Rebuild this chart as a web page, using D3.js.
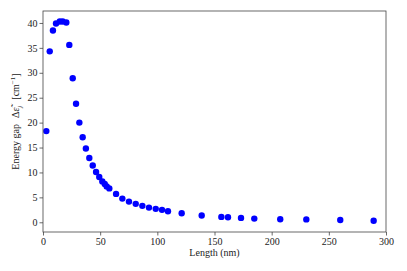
<!DOCTYPE html>
<html><head><meta charset="utf-8">
<script src="https://cdn.jsdelivr.net/npm/d3@7"></script>
<style>body{margin:0;background:#fff}svg{display:block}text{font-family:"Liberation Serif","DejaVu Serif",serif}</style>
</head><body><svg id="c" width="407" height="271"></svg>
<script>
const lengths = [2.9, 5.9, 8.7, 11.4, 14.7, 17.2, 20.4, 23.0, 26.0, 28.9, 31.8, 34.7, 37.5, 40.5, 43.5, 46.4, 49.2, 51.9, 54.0, 55.7, 58.0, 63.9, 69.4, 75.2, 81.1, 86.9, 92.7, 98.6, 104.1, 109.3, 121.3, 138.8, 156.0, 161.8, 173.2, 184.8, 207.5, 230.3, 260.0, 289.2];
const gaps = [18.3, 34.3, 38.5, 39.9, 40.3, 40.3, 40.1, 35.6, 28.9, 23.8, 20.0, 17.05, 14.8, 12.9, 11.4, 10.1, 9.1, 8.2, 7.7, 7.2, 6.8, 5.7, 4.75, 4.15, 3.7, 3.3, 2.95, 2.7, 2.5, 2.2, 1.8, 1.35, 1.08, 1.0, 0.88, 0.74, 0.62, 0.58, 0.45, 0.3];
const xTicks = [0, 50, 100, 150, 200, 250, 300];
const yTicks = [0, 5, 10, 15, 20, 25, 30, 35, 40];

const svg = d3.select("#c");
const L = 43, R = 386, T = 11, B = 232;
const x = d3.scaleLinear().domain([0, 300]).range([L, R]);
const y = d3.scaleLinear().domain([-1.95, 42.4]).range([B, T]);

svg.append("g").selectAll("circle").data(lengths).join("circle")
  .attr("cx", (d) => x(d)).attr("cy", (d, i) => y(gaps[i])).attr("r", 3.2).attr("fill", "#0000ff");

const xa = svg.append("g").attr("transform", `translate(0,${B})`)
  .call(d3.axisBottom(x).tickValues(xTicks).tickSize(3.5).tickPadding(2).tickSizeOuter(0));
const ya = svg.append("g").attr("transform", `translate(${L},0)`)
  .call(d3.axisLeft(y).tickValues(yTicks).tickSize(3.5).tickPadding(2).tickSizeOuter(0));
[xa, ya].forEach(a => {
  a.select(".domain").remove();
  a.selectAll("line").attr("stroke", "#444").attr("stroke-width", 0.8);
  a.selectAll("text").attr("font-size", 10).attr("fill", "#222").style("font-family", '"Liberation Serif",serif');
});
svg.append("rect").attr("x", L).attr("y", T).attr("width", R - L).attr("height", B - T)
  .attr("fill", "none").attr("stroke", "#444").attr("stroke-width", 0.8);

svg.append("text").attr("x", (L + R) / 2).attr("y", 256).attr("text-anchor", "middle")
  .attr("font-size", 10).attr("fill", "#222").text("Length (nm)");

const yl = svg.append("text").attr("transform", `translate(19,${(T + B) / 2}) rotate(-90)`)
  .attr("text-anchor", "middle").attr("font-size", 10).attr("fill", "#222");
yl.append("tspan").text("Energy gap");
yl.append("tspan").attr("dx", 6).text("Δ");
yl.append("tspan").attr("font-style", "italic").text("ε̃");
yl.append("tspan").attr("font-style", "italic").attr("font-size", 7).attr("dy", 2.5).text("j");
yl.append("tspan").attr("dy", -2.5).attr("dx", 6).text("[cm");
yl.append("tspan").attr("font-size", 7).attr("dy", -4).text("−1");
yl.append("tspan").attr("dy", 4).text("]");
</script></body></html>
